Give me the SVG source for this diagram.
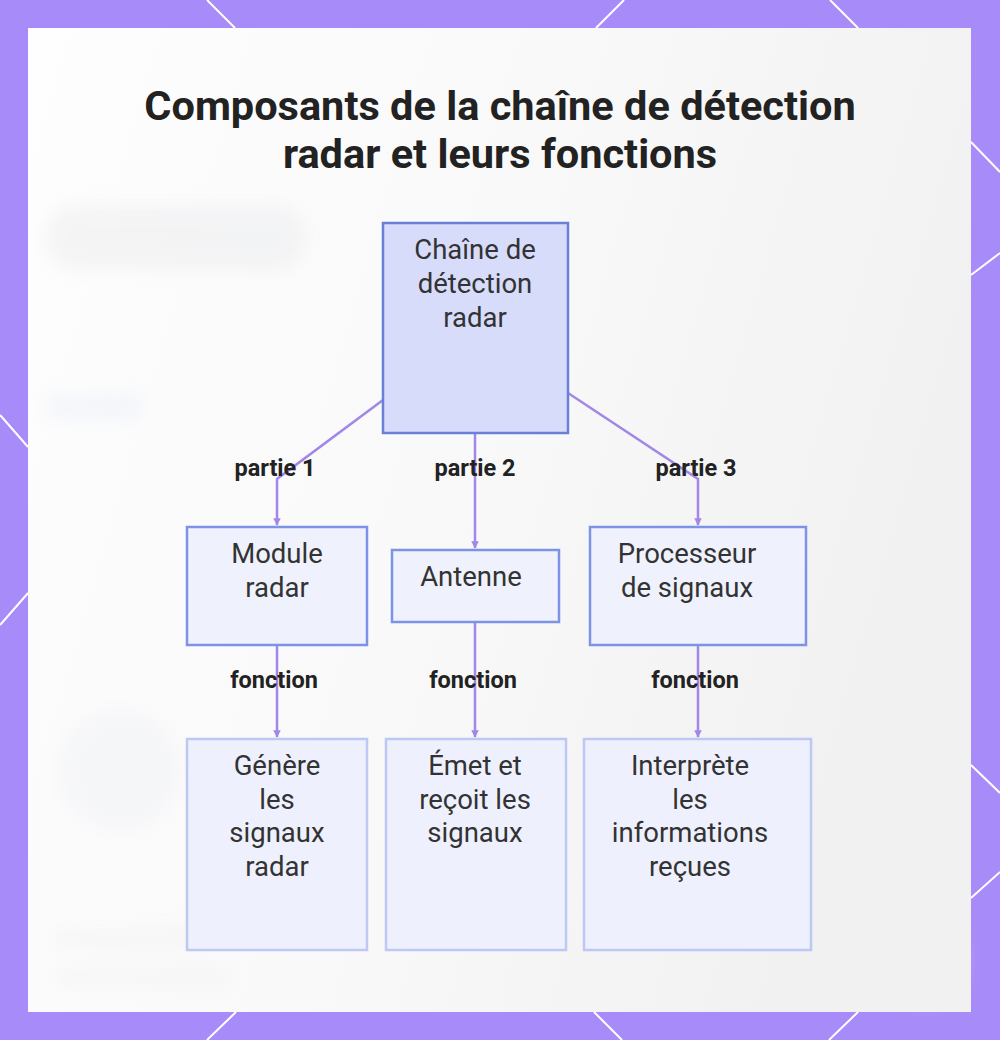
<svg xmlns="http://www.w3.org/2000/svg" width="1000" height="1040" viewBox="0 0 1000 1040">
  <style>
    .title { font-family: Roboto, "Liberation Sans", sans-serif; font-weight: 700; font-size: 41.5px; fill: #222222; text-anchor: middle; }
    .lbl { font-family: Roboto, "Liberation Sans", sans-serif; font-size: 27.5px; fill: #333333; text-anchor: middle; }
    .elbl { font-family: Roboto, "Liberation Sans", sans-serif; font-weight: 700; font-size: 23.5px; fill: #222222; text-anchor: middle; }
    .root { fill: #d8dcfb; stroke: #6a7fd6; stroke-width: 2.5; }
    .mid { fill: #eff2fd; stroke: #7d93e6; stroke-width: 2.5; }
    .leaf { fill: #eef1fd; stroke: #bdc8f4; stroke-width: 2.5; }
    .edge { fill: none; stroke: #a287e8; stroke-width: 2.5; }
    .deco { stroke: #ffffff; stroke-width: 2; fill: none; }
  </style>
  <defs>
    <marker id="arr" viewBox="0 0 10 10" refX="9" refY="5" markerWidth="3" markerHeight="3" orient="auto">
      <path d="M0,0 L10,5 L0,10 z" fill="#a287e8"/>
    </marker>
    <linearGradient id="panel" x1="0" y1="0" x2="1" y2="0.3">
      <stop offset="0" stop-color="#fefefe"/>
      <stop offset="0.6" stop-color="#f8f8f9"/>
      <stop offset="1" stop-color="#f1f1f2"/>
    </linearGradient>
    <filter id="blur" x="-50%" y="-50%" width="200%" height="200%">
      <feGaussianBlur stdDeviation="9"/>
    </filter>
  </defs>

  <!-- frame -->
  <rect x="0" y="0" width="1000" height="1040" fill="#a78bf8"/>
  <g class="deco">
    <line x1="207" y1="0" x2="235" y2="28"/>
    <line x1="624" y1="0" x2="596" y2="28"/>
    <line x1="830" y1="0" x2="858" y2="28"/>
    <line x1="236" y1="1012" x2="207" y2="1040"/>
    <line x1="594" y1="1012" x2="622" y2="1040"/>
    <line x1="858" y1="1012" x2="829" y2="1040"/>
    <line x1="0" y1="415" x2="28" y2="447"/>
    <line x1="28" y1="593" x2="0" y2="625"/>
    <line x1="971" y1="142" x2="1000" y2="172"/>
    <line x1="1000" y1="253" x2="971" y2="275"/>
    <line x1="971" y1="765" x2="1000" y2="793"/>
    <line x1="1000" y1="872" x2="971" y2="898"/>
  </g>
  <rect x="28" y="28" width="943" height="984" fill="url(#panel)"/>
  <g filter="url(#blur)" opacity="0.35">
    <rect x="45" y="205" width="260" height="65" rx="30" fill="#e4e5e8"/>
    <rect x="45" y="395" width="100" height="25" rx="12" fill="#e3e8f3"/>
    <circle cx="118" cy="770" r="62" fill="#eceef3"/>
    <rect x="50" y="930" width="150" height="18" rx="9" fill="#ececee"/>
    <rect x="50" y="968" width="180" height="18" rx="9" fill="#eeeef0"/>
    <circle cx="925" cy="962" r="40" fill="#f2f2f3"/>
  </g>

  <!-- title -->
  <text class="title" x="500" y="120">Composants de la chaîne de détection</text>
  <text class="title" x="500" y="168">radar et leurs fonctions</text>

  <!-- connectors -->
  <g id="connectors">
    <polyline class="edge" points="383,400 277,479 277,525" marker-end="url(#arr)"/>
    <line class="edge" x1="475" y1="433" x2="475" y2="548" marker-end="url(#arr)"/>
    <polyline class="edge" points="568,393 698,479 698,525" marker-end="url(#arr)"/>
    <line class="edge" x1="277" y1="645" x2="277" y2="737" marker-end="url(#arr)"/>
    <line class="edge" x1="475" y1="622" x2="475" y2="737" marker-end="url(#arr)"/>
    <line class="edge" x1="698" y1="645" x2="698" y2="737" marker-end="url(#arr)"/>
    <text class="elbl" x="275" y="476">partie 1</text>
    <text class="elbl" x="475" y="476">partie 2</text>
    <text class="elbl" x="696" y="476">partie 3</text>
    <text class="elbl" x="274" y="688">fonction</text>
    <text class="elbl" x="473" y="688">fonction</text>
    <text class="elbl" x="695" y="688">fonction</text>
  </g>

  <!-- nodes -->
  <g id="root">
    <rect class="root" x="383" y="223" width="185" height="210"/>
    <text class="lbl" x="475" y="259">Chaîne de</text>
    <text class="lbl" x="475" y="293">détection</text>
    <text class="lbl" x="475" y="327">radar</text>
  </g>
  <g id="module">
    <rect class="mid" x="187" y="527" width="180" height="118"/>
    <text class="lbl" x="277" y="563">Module</text>
    <text class="lbl" x="277" y="597">radar</text>
  </g>
  <g id="antenne">
    <rect class="mid" x="392" y="550" width="167" height="72"/>
    <text class="lbl" x="471" y="586">Antenne</text>
  </g>
  <g id="processeur">
    <rect class="mid" x="590" y="527" width="216" height="118"/>
    <text class="lbl" x="687" y="563">Processeur</text>
    <text class="lbl" x="687" y="597">de signaux</text>
  </g>
  <g id="genere">
    <rect class="leaf" x="187" y="739" width="180" height="211"/>
    <text class="lbl" x="277" y="775">Génère</text>
    <text class="lbl" x="277" y="809">les</text>
    <text class="lbl" x="277" y="842">signaux</text>
    <text class="lbl" x="277" y="876">radar</text>
  </g>
  <g id="emet">
    <rect class="leaf" x="386" y="739" width="180" height="211"/>
    <text class="lbl" x="475" y="775">Émet et</text>
    <text class="lbl" x="475" y="809">reçoit les</text>
    <text class="lbl" x="475" y="842">signaux</text>
  </g>
  <g id="interprete">
    <rect class="leaf" x="584" y="739" width="227" height="211"/>
    <text class="lbl" x="690" y="775">Interprète</text>
    <text class="lbl" x="690" y="809">les</text>
    <text class="lbl" x="690" y="842">informations</text>
    <text class="lbl" x="690" y="876">reçues</text>
  </g>
</svg>
